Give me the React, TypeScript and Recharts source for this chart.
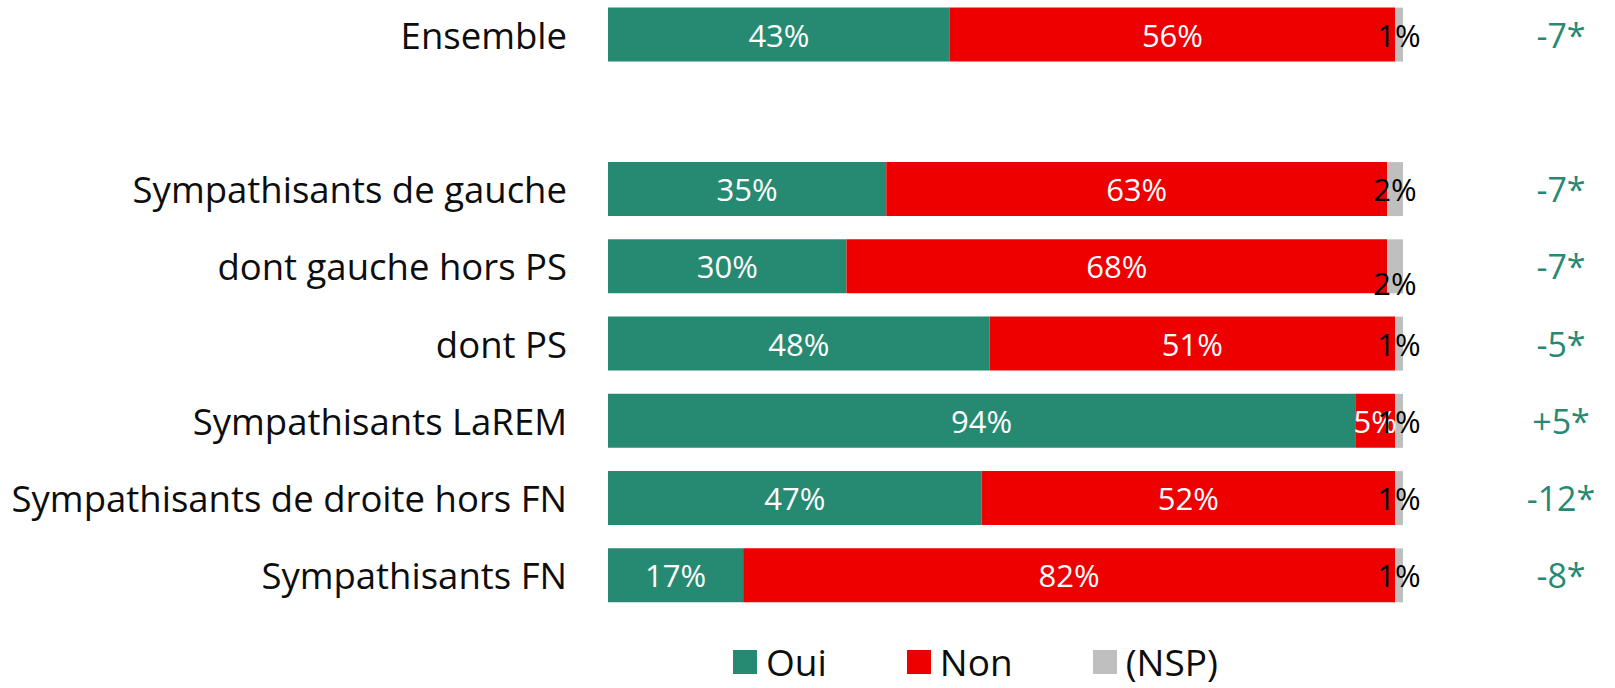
import React from 'react';
import { BarChart, Bar, XAxis, YAxis, Legend, LabelList } from 'recharts';

const categories = [
  'Ensemble',
  ' ',
  'Sympathisants de gauche',
  'dont gauche hors PS',
  'dont PS',
  'Sympathisants LaREM',
  'Sympathisants de droite hors FN',
  'Sympathisants FN',
];
const oui = [43, null, 35, 30, 48, 94, 47, 17];
const non = [56, null, 63, 68, 51, 5, 52, 82];
const nsp = [1, null, 2, 2, 1, 1, 1, 1];
const diffs = ['-7*', '', '-7*', '-7*', '-5*', '+5*', '-12*', '-8*'];
const legendOrder = ['Oui', 'Non', '(NSP)'];

const data = categories.map((name, i) => ({
  name,
  oui: oui[i],
  non: non[i],
  nsp: nsp[i],
  diff: diffs[i],
}));

const FONT = '"Open Sans", sans-serif';
const TEAL = '#268A72';
const RED = '#EE0000';
const GRAY = '#BFBFBF';

const makeLabel = (color: string, lowerIndex?: number) => (props: any) => {
  const { x, y, width, height, value, index } = props;
  if (value === null || value === undefined || value === '') return null;
  const dy = lowerIndex !== undefined && index === lowerIndex ? 17 : 0;
  return (
    <text
      x={Number(x) + Number(width) / 2}
      y={Number(y) + Number(height) / 2 + dy}
      fill={color}
      fontSize={31}
      fontFamily={FONT}
      textAnchor="middle"
      dominantBaseline="central"
    >
      {value}%
    </text>
  );
};

const LeftTick = (props: any) => {
  const { x, y, payload } = props;
  return (
    <text x={x} y={y} fill="#0D0D0D" fontSize={36.5} fontFamily={FONT} textAnchor="end" dominantBaseline="central">
      {payload.value}
    </text>
  );
};

const RightTick = (props: any) => {
  const { x, y, payload } = props;
  const d = diffs[categories.indexOf(payload.value)] ?? '';
  return (
    <text x={x + 158} y={y} fill={TEAL} fontSize={34} fontFamily={FONT} textAnchor="middle" dominantBaseline="central">
      {d}
    </text>
  );
};

const LegendContent = (props: any) => {
  const payload = [...(props.payload || [])].sort(
    (a: any, b: any) => legendOrder.indexOf(a.value) - legendOrder.indexOf(b.value)
  );
  return (
    <div style={{ display: 'flex', alignItems: 'center', fontFamily: FONT, fontSize: 37, color: '#0D0D0D', lineHeight: '40px', height: 40 }}>
      {payload.map((p: any, i: number) => (
        <div key={i} style={{ display: 'flex', alignItems: 'center', marginRight: 80 }}>
          <div style={{ width: 24, height: 24, background: p.color, marginRight: 9 }} />
          <span>{p.value}</span>
        </div>
      ))}
    </div>
  );
};

export default function App() {
  return (
    <div style={{ position: 'absolute', left: 0, top: 0, background: '#fff' }}>
      <BarChart
        width={1615}
        height={688}
        data={data}
        layout="vertical"
        margin={{ top: -4, right: 0, left: 0, bottom: 74 }}
        barCategoryGap="15%"
      >
        <XAxis type="number" domain={[0, 100]} hide />
        <YAxis
          yAxisId="left"
          type="category"
          dataKey="name"
          width={608}
          axisLine={false}
          tickLine={false}
          tickSize={0}
          tickMargin={41}
          tick={<LeftTick />}
          interval={0}
        />
        <YAxis
          yAxisId="right"
          orientation="right"
          type="category"
          dataKey="name"
          width={212}
          axisLine={false}
          tickLine={false}
          tickSize={0}
          tickMargin={0}
          tick={<RightTick />}
          interval={0}
        />
        <Legend
          layout="horizontal"
          verticalAlign="middle"
          align="center"
          wrapperStyle={{ top: 642, left: 733, width: 720, height: 40 }}
          content={<LegendContent />}
        />
        <Bar yAxisId="left" dataKey="oui" name="Oui" stackId="a" fill={TEAL} isAnimationActive={false}>
          <LabelList dataKey="oui" content={makeLabel('#FFFFFF')} />
        </Bar>
        <Bar yAxisId="left" dataKey="non" name="Non" stackId="a" fill={RED} isAnimationActive={false}>
          <LabelList dataKey="non" content={makeLabel('#FFFFFF')} />
        </Bar>
        <Bar yAxisId="left" dataKey="nsp" name="(NSP)" stackId="a" fill={GRAY} isAnimationActive={false}>
          <LabelList dataKey="nsp" content={makeLabel('#000000', 2)} />
        </Bar>
      </BarChart>
    </div>
  );
}
